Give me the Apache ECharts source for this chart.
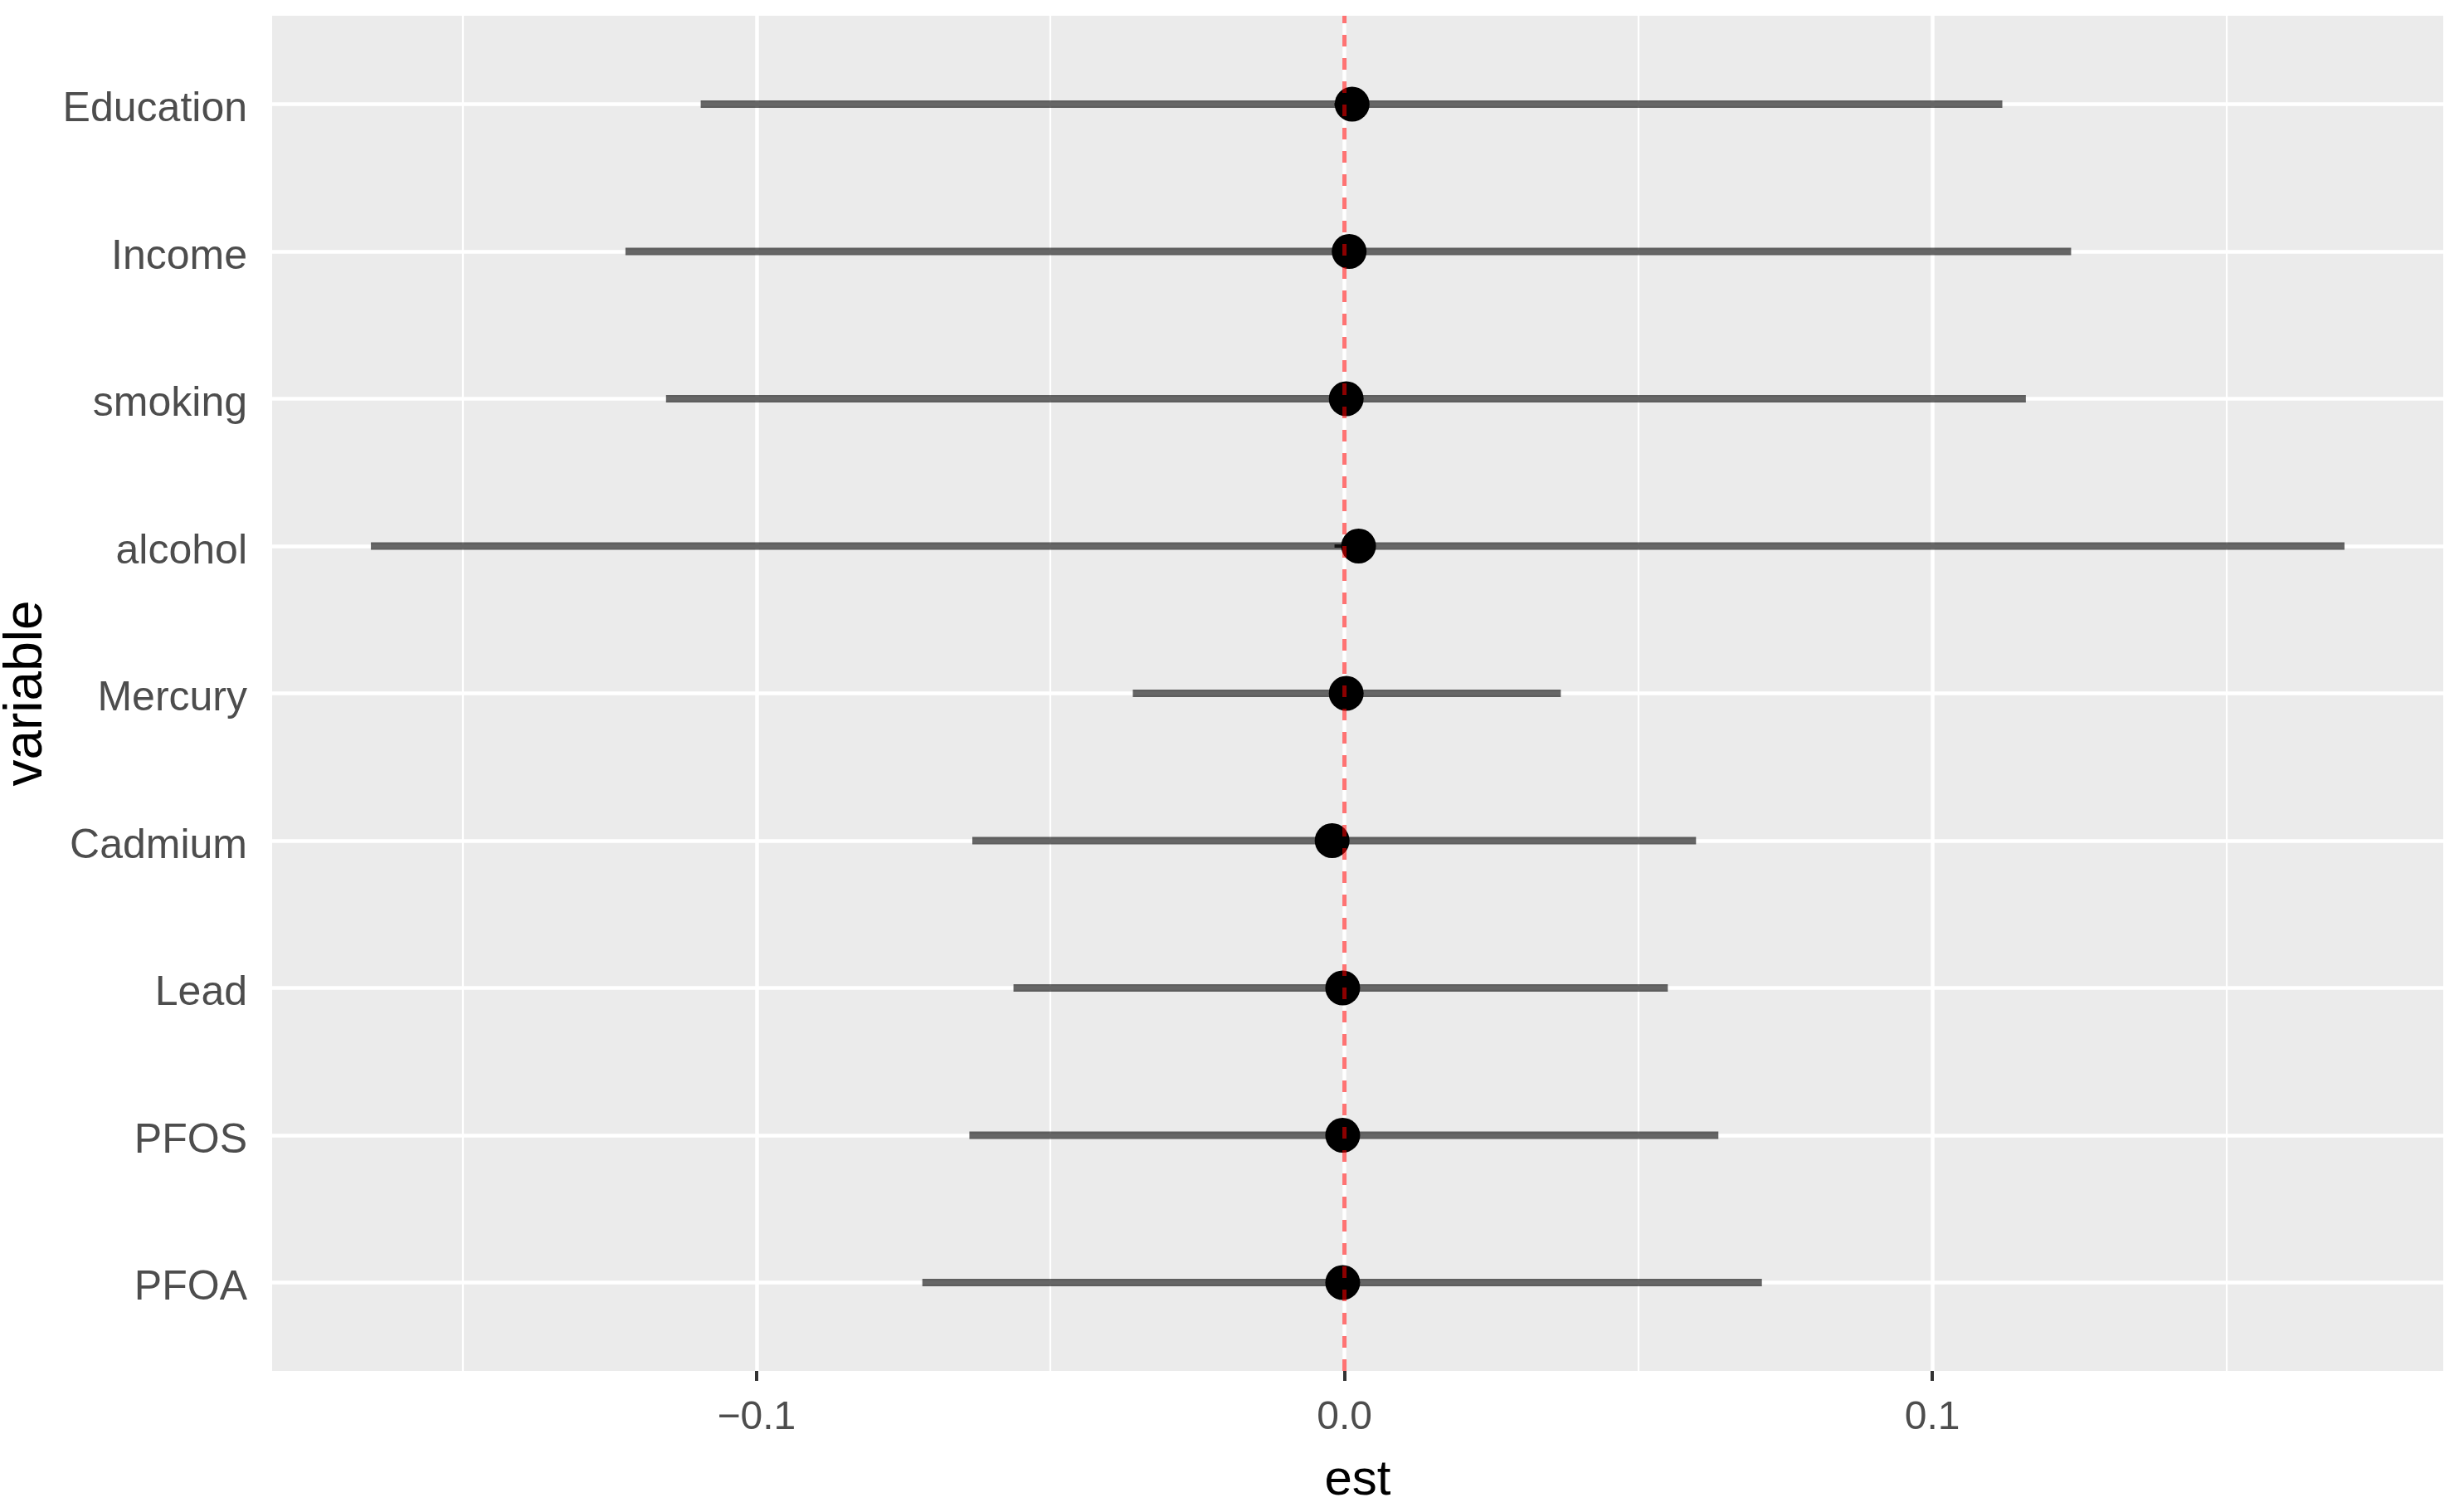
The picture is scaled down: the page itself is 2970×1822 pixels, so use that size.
<!DOCTYPE html>
<html>
<head>
<meta charset="utf-8">
<script src="https://cdn.jsdelivr.net/npm/echarts@6/dist/echarts.min.js"></script>
<style>
html,body{margin:0;padding:0;background:#fff;}
#chart{width:2970px;height:1822px;}
</style>
</head>
<body>
<div id="chart"></div>
<script>
// ---- data ----
const categories = ['Education','Income','smoking','alcohol','Mercury','Cadmium','Lead','PFOS','PFOA'];
const estValues  = [0.0013, 0.0008, 0.0003, 0.0024, 0.0003, -0.0021, -0.0003, -0.0003, -0.0003];
const lowerCI    = [-0.1095, -0.1223, -0.1154, -0.1656, -0.0360, -0.0633, -0.0563, -0.0638, -0.0718];
const upperCI    = [0.1119, 0.1236, 0.1159, 0.1701, 0.0368, 0.0598, 0.0550, 0.0636, 0.0710];
const xMajorTicks = [-0.1, 0, 0.1];
const xTickLabels = ['\u22120.1', '0.0', '0.1'];
const xMinorTicks = [-0.15, -0.05, 0.05, 0.15];
const refLineX = [0, 0];
const xRange = [-0.1824, 0.1869];

const regular = '"Liberation Sans", Arial, sans-serif';

const intervalData = categories.map((c, i) => [lowerCI[i], upperCI[i], c]);
const pointData = categories.map((c, i) => [estValues[i], c]);
const refLineData = refLineX.map((x, i) => [x, i]);

const chart = echarts.init(document.getElementById('chart'), null, {renderer: 'canvas'});
const option = {
  backgroundColor: '#ffffff',
  animation: false,
  grid: [
    {left: 328, right: 25, top: 19, bottom: 170, show: true, backgroundColor: '#EBEBEB', borderWidth: 0,
     containLabel: false, outerBoundsMode: 'none'},
    {left: 328, right: 25, top: 125.5, bottom: 276.5, show: false,
     containLabel: false, outerBoundsMode: 'none'}
  ],
  xAxis: [
    { type: 'value', gridIndex: 0, min: xRange[0], max: xRange[1], position: 'bottom',
      axisLine: {show: false},
      axisTick: {show: true, length: 12, lineStyle: {color: '#333333', width: 4}, customValues: xMajorTicks},
      axisLabel: {show: true, customValues: xMajorTicks, margin: 33, color: '#4D4D4D', fontSize: 48, fontFamily: regular,
        formatter: function (v) { const k = xMajorTicks.findIndex(t => Math.abs(t - v) < 1e-9); return k >= 0 ? xTickLabels[k] : ''; }},
      splitLine: {show: true, lineStyle: {color: '#FFFFFF', width: 4.5}},
      name: 'est', nameLocation: 'middle', nameGap: 102,
      nameTextStyle: {color: '#000000', fontSize: 60, fontFamily: regular}
    },
    { type: 'value', gridIndex: 0, min: xRange[0], max: xRange[1], position: 'bottom',
      axisLine: {show: false}, axisLabel: {show: false},
      axisTick: {show: false, customValues: xMinorTicks},
      splitLine: {show: true, lineStyle: {color: '#FFFFFF', width: 2.2}}
    },
    { type: 'value', gridIndex: 1, min: xRange[0], max: xRange[1], show: false,
      splitLine: {show: false}
    }
  ],
  yAxis: [
    { type: 'value', gridIndex: 0, min: 0, max: 1, show: false, splitLine: {show: false} },
    { type: 'category', gridIndex: 1, data: categories, inverse: true, boundaryGap: false,
      axisLine: {show: false},
      axisTick: {show: true, length: 12, lineStyle: {color: '#333333', width: 4}},
      axisLabel: {margin: 30, color: '#4D4D4D', fontSize: 50, fontFamily: regular,
        formatter: function (v) { return '{lab|' + v + '}'; },
        rich: {lab: {color: '#4D4D4D', fontSize: 50, fontFamily: regular, padding: [14, 0, 0, 0]}}},
      splitLine: {show: true, lineStyle: {color: '#FFFFFF', width: 4.5}},
      name: 'variable', nameLocation: 'middle', nameRotate: 90, nameGap: 222,
      nameTextStyle: {color: '#000000', fontSize: 64, fontFamily: regular}
    }
  ],
  series: [
    { type: 'custom', xAxisIndex: 2, yAxisIndex: 1, z: 2,
      data: intervalData,
      encode: {x: [0, 1], y: 2},
      renderItem: function (params, api) {
        const p1 = api.coord([api.value(0), api.value(2)]);
        const p2 = api.coord([api.value(1), api.value(2)]);
        return {type: 'line', shape: {x1: p1[0], y1: p1[1], x2: p2[0], y2: p2[1]},
          style: {stroke: 'rgba(0,0,0,0.6)', lineWidth: 9}};
      }
    },
    { type: 'scatter', xAxisIndex: 2, yAxisIndex: 1, z: 3,
      data: pointData, symbol: 'circle', symbolSize: 42,
      itemStyle: {color: '#000000', opacity: 1}
    },
    { type: 'line', xAxisIndex: 0, yAxisIndex: 0, z: 5,
      data: refLineData, showSymbol: false, symbol: 'none',
      lineStyle: {color: '#ff0000', opacity: 0.55, width: 5, type: [14, 14]}
    }
  ]
};
chart.setOption(option);
</script>
</body>
</html>
